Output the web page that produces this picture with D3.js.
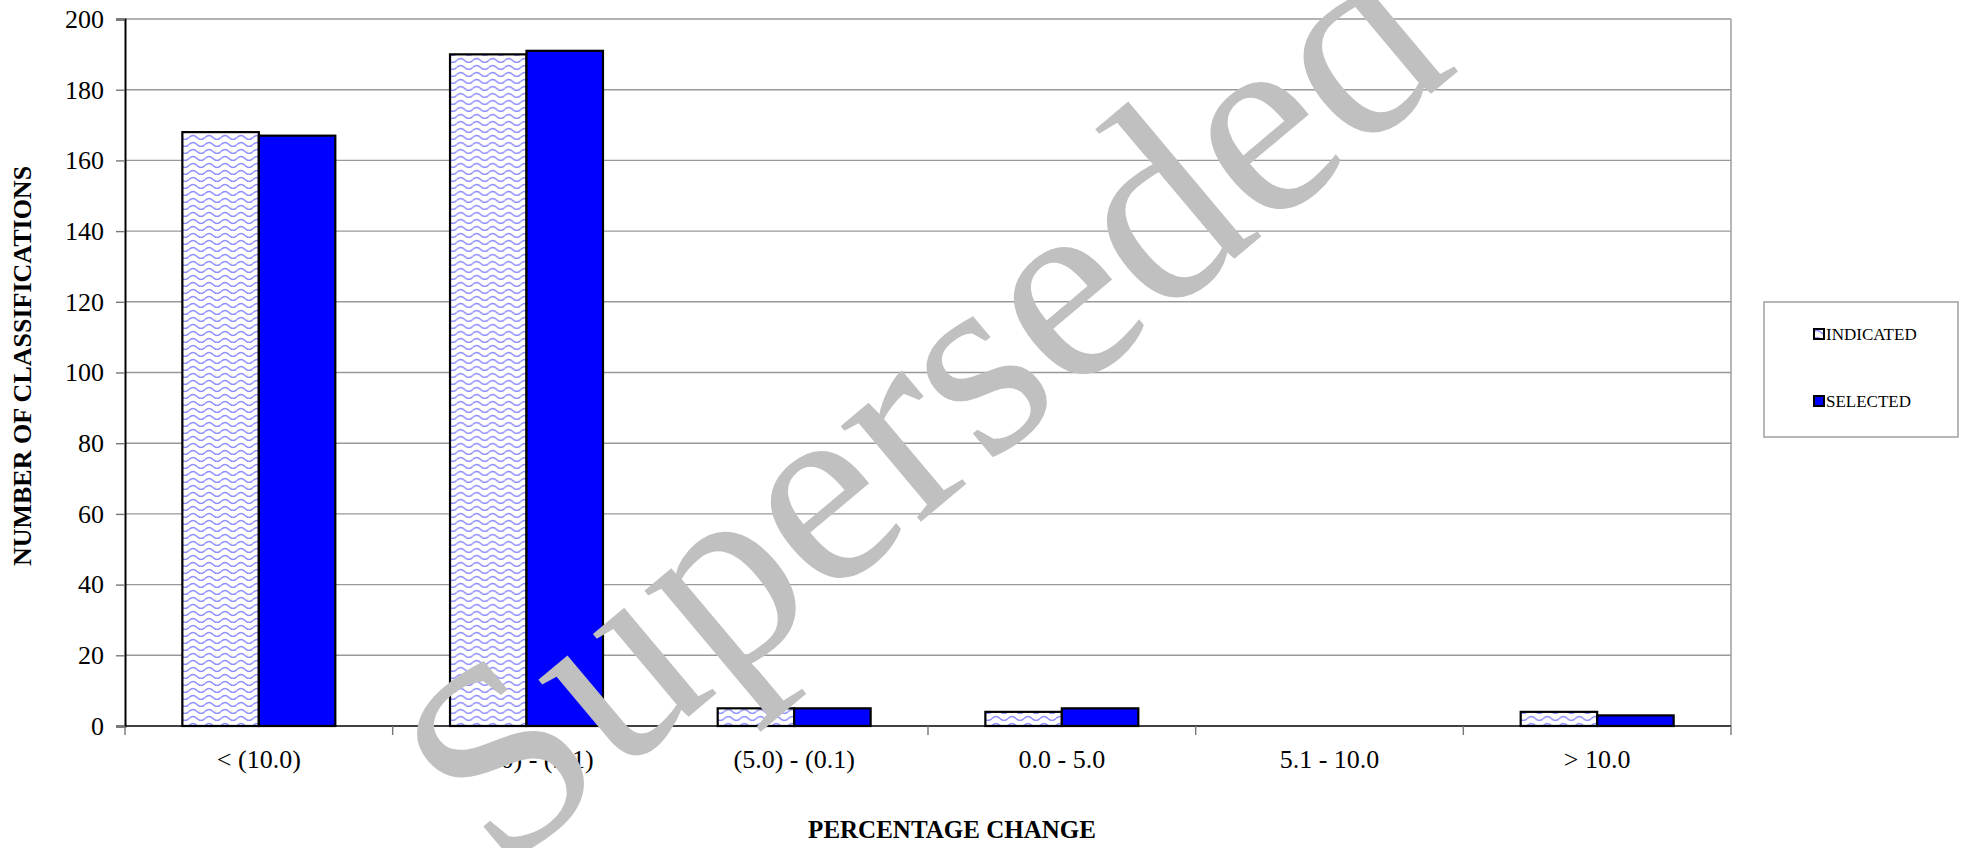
<!DOCTYPE html>
<html>
<head>
<meta charset="utf-8">
<script src="https://cdn.jsdelivr.net/npm/d3@7/dist/d3.min.js"></script>
<style>
  body { margin: 0; background: #fff; }
  svg text { font-family: "Liberation Serif", "Times New Roman", serif; }
</style>
</head>
<body>
<script>
// data
var categories = ["< (10.0)", "(10.0) - (5.1)", "(5.0) - (0.1)", "0.0 - 5.0", "5.1 - 10.0", "> 10.0"];
var indicated = [168, 190, 5, 4, 0, 4];
var selected = [167, 191, 5, 5, 0, 3];
var seriesNames = ["INDICATED", "SELECTED"];
var yTicks = [0, 20, 40, 60, 80, 100, 120, 140, 160, 180, 200];

var width = 1970, height = 848;
var plotLeft = 125, plotRight = 1731, plotTop = 19, plotBottom = 726;

var svg = d3.select("body").append("svg")
  .attr("width", width)
  .attr("height", height);

var defs = svg.append("defs");
var pat = defs.append("pattern")
  .attr("id", "wave")
  .attr("patternUnits", "userSpaceOnUse")
  .attr("width", 16)
  .attr("height", 7);
pat.append("rect").attr("width", 16).attr("height", 7).attr("fill", "#fff");
pat.append("path")
  .attr("d", "M0 4.5 Q4 0.5 8 4.5 T16 4.5")
  .attr("fill", "none")
  .attr("stroke", "#8f8fff")
  .attr("stroke-width", 1.4);

var x0 = d3.scaleBand().domain(categories).range([plotLeft, plotRight]).paddingInner(0).paddingOuter(0);
var x1 = d3.scaleBand().domain(seriesNames).range([0, x0.bandwidth()]).paddingInner(0).paddingOuter(0.75);
var y = d3.scaleLinear().domain([0, 200]).range([plotBottom, plotTop]);

// grid
svg.append("g").selectAll("line")
  .data(yTicks.filter(function(d) { return d > 0 }))
  .enter().append("line")
  .attr("x1", plotLeft).attr("x2", plotRight)
  .attr("y1", function(d) { return y(d) }).attr("y2", function(d) { return y(d) })
  .attr("stroke", "#999").attr("stroke-width", 1.4);

svg.append("line")
  .attr("x1", plotRight).attr("x2", plotRight).attr("y1", plotTop).attr("y2", plotBottom)
  .attr("stroke", "#999").attr("stroke-width", 1.4);

// bars
var rows = categories.map(function(c, i) {
  return { cat: c, vals: [
    { s: "INDICATED", v: indicated[i] },
    { s: "SELECTED", v: selected[i] }
  ] };
});

var groups = svg.selectAll("g.cat")
  .data(rows)
  .enter().append("g")
  .attr("class", "cat")
  .attr("transform", function(d) { return "translate(" + x0(d.cat) + ",0)" });

groups.selectAll("rect")
  .data(function(d) { return d.vals.filter(function(e) { return e.v > 0 }) })
  .enter().append("rect")
  .attr("x", function(d) { return x1(d.s) })
  .attr("y", function(d) { return y(d.v) })
  .attr("width", x1.bandwidth())
  .attr("height", function(d) { return plotBottom - y(d.v) })
  .attr("fill", function(d) { return d.s == "INDICATED" ? "url(#wave)" : "#0000ff" })
  .attr("stroke", "#000")
  .attr("stroke-width", 2.2);

// y axis
var yAxis = svg.append("g")
  .attr("transform", "translate(" + plotLeft + ",0)")
  .call(d3.axisLeft(y).tickValues(yTicks).tickSize(9).tickPadding(12));
yAxis.select(".domain").attr("stroke", "#000").attr("stroke-width", 2);
yAxis.selectAll(".tick line").attr("stroke", "#777").attr("stroke-width", 1.4);
yAxis.selectAll("text").attr("font-size", 26).attr("fill", "#000")
  .style("font-family", "'Liberation Serif', serif");

// x axis
var xAxis = svg.append("g")
  .attr("transform", "translate(0," + plotBottom + ")");
xAxis.append("line")
  .attr("x1", plotLeft).attr("x2", plotRight)
  .attr("stroke", "#000").attr("stroke-width", 1.6);
xAxis.selectAll("line.tk")
  .data(categories.concat(["end"]))
  .enter().append("line")
  .attr("class", "tk")
  .attr("x1", function(d, i) { return plotLeft + i * x0.step() })
  .attr("x2", function(d, i) { return plotLeft + i * x0.step() })
  .attr("y1", 0).attr("y2", 9)
  .attr("stroke", "#777").attr("stroke-width", 1.4);
xAxis.selectAll("text")
  .data(categories)
  .enter().append("text")
  .attr("x", function(d) { return x0(d) + x0.bandwidth() / 2 })
  .attr("y", 42)
  .attr("text-anchor", "middle")
  .attr("font-size", 26)
  .text(function(d) { return d });

// axis titles
svg.append("text")
  .attr("x", 952).attr("y", 838)
  .attr("text-anchor", "middle")
  .attr("font-size", 25)
  .attr("font-weight", "bold")
  .text("PERCENTAGE CHANGE");

svg.append("text")
  .attr("transform", "translate(31," + 366 + ") rotate(-90)")
  .attr("text-anchor", "middle")
  .attr("font-size", 26)
  .attr("font-weight", "bold")
  .text("NUMBER OF CLASSIFICATIONS");

// legend
var legend = svg.append("g");
legend.append("rect")
  .attr("x", 1764).attr("y", 302)
  .attr("width", 194).attr("height", 135)
  .attr("fill", "#fff")
  .attr("stroke", "#999").attr("stroke-width", 1.4);
var items = legend.selectAll("g.item")
  .data(seriesNames)
  .enter().append("g")
  .attr("transform", function(d, i) { return "translate(1813," + (335 + i * 67) + ")" });
items.append("rect")
  .attr("x", 1).attr("y", -6)
  .attr("width", 10).attr("height", 10)
  .attr("fill", function(d) { return d == "INDICATED" ? "url(#wave)" : "#0000ff" })
  .attr("stroke", "#000").attr("stroke-width", 2);
items.append("text")
  .attr("x", 13).attr("y", 5)
  .attr("font-size", 17)
  .text(function(d) { return d });

// watermark
svg.append("text")
  .attr("transform", "translate(500,875) rotate(-40)")
  .attr("font-size", 272)
  .attr("fill", "#c0c0c0")
  .text("Superseded");
</script>
</body>
</html>
